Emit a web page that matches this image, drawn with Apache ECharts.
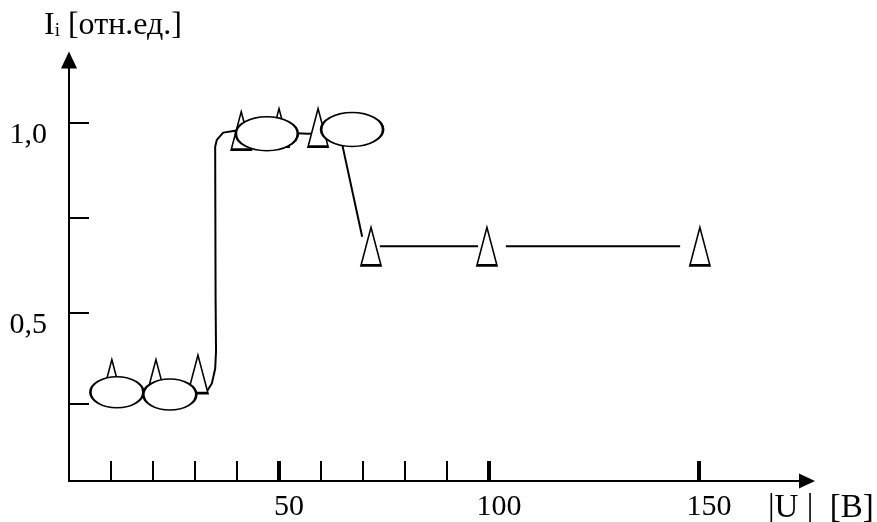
<!DOCTYPE html>
<html>
<head>
<meta charset="utf-8">
<script src="https://cdn.jsdelivr.net/npm/echarts@6/dist/echarts.min.js"></script>
<style>
html,body{margin:0;padding:0;background:#fff;}
#chart{width:877px;height:522px;}
</style>
</head>
<body>
<div id="chart"></div>
<script>
// ---- data ----
const yAxisName = 'I';
const yAxisNameSub = 'i';
const yAxisUnit = '[отн.ед.]';
const xAxisName = '|U |  [B]';

const xTickValues = [10, 20, 30, 40, 50, 60, 70, 80, 90, 100];
const xMajorTicks = [50, 100, 150];
const xLabelValues = [50, 100, 150];
const yTickValues = [0.26, 0.5, 0.75, 1.0];
const yLabelValues = [0.5, 1.0];

// triangles (x, y)
const triangleX = [10.2, 20.7, 30.7, 41.0, 50.0, 59.3, 71.9, 99.5, 150.2];
const triangleY = [0.327, 0.327, 0.339, 0.979, 0.987, 0.987, 0.675, 0.675, 0.675];

// ellipses (x, y)
const ellipseX = [11.4, 24.0, 47.1, 67.4];
const ellipseY = [0.291, 0.285, 0.971, 0.982];

// connecting curve (x, y); '-' marks a break in the drawn line
const curveX = [32.8, 34.0, 34.8, 35.0, 34.9, 34.8, 35.2, 36.7, 39.5, 57.0, 64.4, 69.8, 71.0, 74.0, 97.4, 100.0, 104.0, 145.5];
const curveY = [0.293, 0.314, 0.353, 0.398, 0.537, 0.937, 0.955, 0.974, 0.979, 0.971, 0.976, 0.70, '-', 0.675, 0.675, '-', 0.675, 0.675];

// ---- chart ----
const font = 'Liberation Serif';
const zip = (a, b) => a.map((v, i) => [v, b[i]]);
const ellipsePath = 'path://M0,50 A50,50 0 1,1 100,50 A50,50 0 1,1 0,50 Z';

const chart = echarts.init(document.getElementById('chart'), null, {renderer: 'canvas'});
const option = {
  animation: false,
  backgroundColor: '#fff',
  grid: {left: 69, right: 70, top: 60, bottom: 39, containLabel: false},
  xAxis: [{
    type: 'value', min: 0, max: 175.7,
    axisLine: {show: true, lineStyle: {color: '#000', width: 2}, symbol: ['none', 'triangle'], symbolSize: [15, 16], onZero: false},
    axisTick: {show: true, inside: true, length: 20, lineStyle: {color: '#000', width: 2}, customValues: xTickValues},
    axisLabel: {show: true, customValues: xLabelValues, color: '#000', fontFamily: font, fontSize: 30, margin: 11, padding: [0, 0, 0, 20]},
    splitLine: {show: false}
  }, {
    type: 'value', min: 0, max: 175.7, position: 'bottom',
    axisLine: {show: false, onZero: false},
    axisTick: {show: true, inside: true, length: 20, lineStyle: {color: '#000', width: 4}, customValues: xMajorTicks},
    axisLabel: {show: false},
    splitLine: {show: false}
  }],
  yAxis: {
    type: 'value', min: 0.0576, max: 1.165,
    axisLine: {show: true, lineStyle: {color: '#000', width: 2}, symbol: ['none', 'triangle'], symbolSize: [16, 17], onZero: false},
    axisTick: {show: true, inside: true, length: 20, lineStyle: {color: '#000', width: 2}, customValues: yTickValues},
    axisLabel: {show: true, customValues: yLabelValues, color: '#000', fontFamily: font, fontSize: 30, margin: 22,
      verticalAlign: 'top', lineHeight: 24,
      formatter: v => v.toFixed(1).replace('.', ',')},
    splitLine: {show: false}
  },
  graphic: [{
    type: 'text', left: 44, top: 10,
    style: {
      text: '{a|' + yAxisName + '}{b|' + yAxisNameSub + '}{a| ' + yAxisUnit + '}',
      rich: {
        a: {fontFamily: font, fontSize: 32, fill: '#000', verticalAlign: 'bottom'},
        b: {fontFamily: font, fontSize: 19, fill: '#000', verticalAlign: 'bottom', padding: [0, 0, 1, 0]}
      }
    }
  }, {
    type: 'text', left: 768, top: 492,
    style: {text: xAxisName, fontFamily: font, fontSize: 33, fill: '#000'}
  }],
  series: [{
    type: 'line', data: zip(curveX, curveY), symbol: 'none', z: 1, silent: true, connectNulls: false,
    lineStyle: {color: '#000', width: 2}
  }, {
    type: 'scatter', data: zip(triangleX, triangleY), symbol: 'triangle', symbolSize: [20, 38], z: 2, silent: true,
    itemStyle: {color: '#fff', borderColor: '#000', borderWidth: 2, opacity: 1}
  }, {
    type: 'scatter', data: zip(ellipseX, ellipseY), symbol: ellipsePath, z: 3, silent: true,
    symbolSize: (v, p) => p.dataIndex < 2 ? [53, 31] : [62, 34],
    itemStyle: {color: '#fff', borderColor: '#000', borderWidth: 2, opacity: 1}
  }]
};
chart.setOption(option);
</script>
</body>
</html>
